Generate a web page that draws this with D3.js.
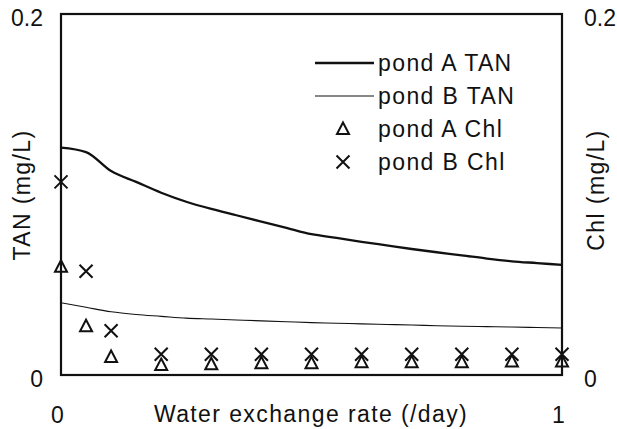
<!DOCTYPE html>
<html>
<head>
<meta charset="utf-8">
<script src="https://cdn.jsdelivr.net/npm/d3@7"></script>
<style>
  html, body { margin: 0; padding: 0; background: #fff; }
  svg text { font-family: "Liberation Sans", Arial, sans-serif; fill: #111; }
</style>
</head>
<body>
<svg id="chart" width="617" height="429"></svg>
<script>
// Exchange rate grid for the simulated TAN curves (/day)
const rateGrid = [0, 0.05, 0.1, 0.15, 0.2, 0.25, 0.3, 0.35, 0.4, 0.45, 0.5,
                  0.55, 0.6, 0.65, 0.7, 0.75, 0.8, 0.85, 0.9, 0.95, 1.0];
const pondATan = [0.126, 0.1235, 0.113, 0.107, 0.101, 0.096, 0.092, 0.0885, 0.085, 0.0815, 0.078,
                  0.076, 0.0738, 0.0718, 0.0698, 0.068, 0.0663, 0.0645, 0.063, 0.062, 0.061];
const pondBTan = [0.040, 0.0375, 0.035, 0.0335, 0.0325, 0.0315, 0.031, 0.0305, 0.030, 0.0295, 0.029,
                  0.0287, 0.0283, 0.028, 0.0277, 0.0273, 0.027, 0.0268, 0.0266, 0.0263, 0.026];

// Measured chlorophyll at the sampled exchange rates
const chlRates = [0, 0.05, 0.1, 0.2, 0.3, 0.4, 0.5, 0.6, 0.7, 0.8, 0.9, 1.0];
const pondAChl = [0.060, 0.027, 0.010, 0.0055, 0.006, 0.0065, 0.0065, 0.007, 0.007, 0.007, 0.0075, 0.0075];
const pondBChl = [0.107, 0.0575, 0.0245, 0.0115, 0.0115, 0.0115, 0.0115, 0.0115, 0.0115, 0.0115, 0.0115, 0.0115];

const xTicks = [0, 1];
const tanTicks = [0, 0.2];
const chlTicks = [0, 0.2];

const legendItems = ["pond A TAN", "pond B TAN", "pond A Chl", "pond B Chl"];

const FONT = "23px";
const SPACING = "1.4px";

const svg = d3.select("#chart");
const m = { left: 61, right: 562, top: 14, bottom: 375 };

const x = d3.scaleLinear().domain([0, 1]).range([m.left, m.right]);
const yTan = d3.scaleLinear().domain([0, 0.2]).range([m.bottom, m.top]);
const yChl = d3.scaleLinear().domain([0, 0.2]).range([m.bottom, m.top]);

// Plot frame
svg.append("rect")
  .attr("x", m.left).attr("y", m.top)
  .attr("width", m.right - m.left).attr("height", m.bottom - m.top)
  .attr("fill", "none").attr("stroke", "#111").attr("stroke-width", 2.2);

// Axes: labels only, the frame carries the lines
function styleAxis(g) {
  g.select(".domain").remove();
  g.selectAll("line").remove();
  g.selectAll("text").style("font-size", FONT).attr("fill", "#111");
}
const fmt = d => d === 0 ? "0" : d3.format(".1f")(d);

svg.append("g")
  .attr("transform", `translate(0,${m.bottom})`)
  .call(d3.axisBottom(x).tickValues(xTicks).tickFormat(d3.format("d")).tickSize(0).tickPadding(31.5))
  .call(styleAxis)
  .selectAll("text").attr("dx", "-4");

svg.append("g")
  .attr("transform", `translate(${m.left},0)`)
  .call(d3.axisLeft(yTan).tickValues(tanTicks).tickFormat(fmt).tickSize(0).tickPadding(18))
  .call(styleAxis)
  .selectAll("text").attr("dy", "0.5em");

svg.append("g")
  .attr("transform", `translate(${m.right},0)`)
  .call(d3.axisRight(yChl).tickValues(chlTicks).tickFormat(fmt).tickSize(0).tickPadding(22))
  .call(styleAxis)
  .selectAll("text").attr("dy", "0.5em");

// Axis titles
svg.append("text")
  .attr("x", 311).attr("y", 422)
  .attr("text-anchor", "middle")
  .style("font-size", FONT).style("letter-spacing", SPACING)
  .text("Water exchange rate (/day)");

svg.append("text")
  .attr("transform", "translate(30,195) rotate(-90)")
  .attr("text-anchor", "middle")
  .style("font-size", FONT).style("letter-spacing", SPACING)
  .text("TAN (mg/L)");

svg.append("text")
  .attr("transform", "translate(604,190) rotate(-90)")
  .attr("text-anchor", "middle")
  .style("font-size", FONT).style("letter-spacing", SPACING)
  .text("Chl (mg/L)");

// TAN curves
const lineTan = d3.line()
  .x((d, i) => x(rateGrid[i]))
  .y(d => yTan(d))
  .curve(d3.curveMonotoneX);

svg.append("path").datum(pondATan)
  .attr("d", lineTan).attr("fill", "none")
  .attr("stroke", "#111").attr("stroke-width", 2.3);

svg.append("path").datum(pondBTan)
  .attr("d", lineTan).attr("fill", "none")
  .attr("stroke", "#111").attr("stroke-width", 1.1);

// Marker shapes
const triPath = "M0,-6.5L6,5L-6,5Z";
const crossPath = "M-6.5,-6.5L6.5,6.5M6.5,-6.5L-6.5,6.5";

svg.append("g").selectAll("path")
  .data(pondAChl)
  .join("path")
  .attr("transform", (d, i) => `translate(${x(chlRates[i])},${yChl(d)})`)
  .attr("d", triPath)
  .attr("fill", "none").attr("stroke", "#111").attr("stroke-width", 2);

svg.append("g").selectAll("path")
  .data(pondBChl)
  .join("path")
  .attr("transform", (d, i) => `translate(${x(chlRates[i])},${yChl(d)})`)
  .attr("d", crossPath)
  .attr("fill", "none").attr("stroke", "#111").attr("stroke-width", 2);

// Legend
const legend = svg.append("g");
const rowY = [63, 96, 129, 162];
legendItems.forEach((name, i) => {
  const y = rowY[i];
  if (i === 0 || i === 1) {
    legend.append("line")
      .attr("x1", 315).attr("x2", 374).attr("y1", y).attr("y2", y)
      .attr("stroke", "#111").attr("stroke-width", i === 0 ? 2.3 : 1.1);
  } else {
    legend.append("path")
      .attr("transform", `translate(343,${y})`)
      .attr("d", i === 2 ? triPath : crossPath)
      .attr("fill", "none").attr("stroke", "#111").attr("stroke-width", 2);
  }
  legend.append("text")
    .attr("x", 378).attr("y", y + 8)
    .style("font-size", FONT).style("letter-spacing", SPACING)
    .text(name);
});
</script>
</body>
</html>
